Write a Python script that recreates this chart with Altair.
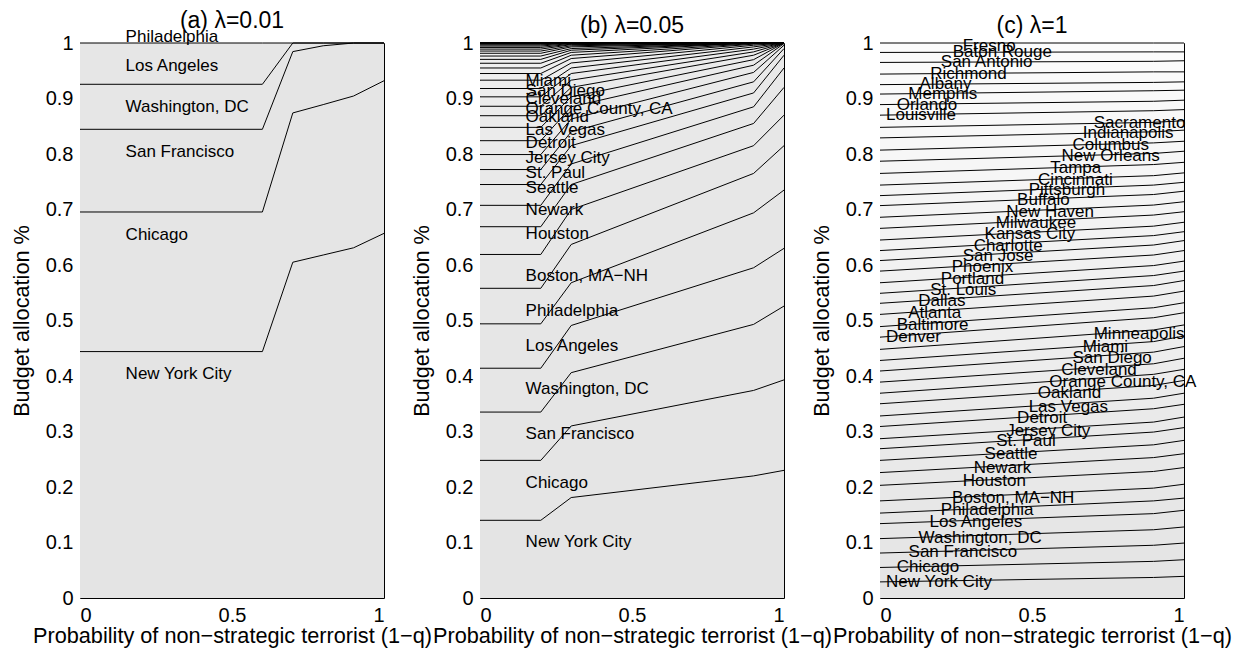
import altair as alt
import pandas as pd

FONT = "Liberation Sans"

cities = ["New York City", "Chicago", "San Francisco", "Washington, DC", "Los Angeles",
          "Philadelphia", "Boston, MA\u2212NH", "Houston", "Newark", "Seattle", "St. Paul",
          "Jersey City", "Detroit", "Las Vegas", "Oakland", "Orange County, CA", "Cleveland",
          "San Diego", "Miami", "Minneapolis", "Denver", "Baltimore", "Atlanta", "Dallas",
          "St. Louis", "Portland", "Phoenix", "San Jose", "Charlotte", "Kansas City",
          "Milwaukee", "New Haven", "Buffalo", "Pittsburgh", "Cincinnati", "Tampa",
          "New Orleans", "Columbus", "Indianapolis", "Sacramento", "Louisville", "Orlando",
          "Memphis", "Albany", "Richmond", "San Antonio", "Baton Rouge", "Fresno"]

# ---- panel (a) lambda = 0.01 : cumulative allocation (top of each city band)
xa = [0, 0.6, 0.7, 0.8, 0.9, 1.0]
cum_a = [
    [0.444, 0.444, 0.605, 0.618, 0.631, 0.657],
    [0.6955, 0.6955, 0.874, 0.889, 0.9045, 0.932],
    [0.8445, 0.8445, 0.9845, 0.995, 1.0, 1.0],
    [0.9256, 0.9256, 1.0, 1.0, 1.0, 1.0],
    [1.0, 1.0, 1.0, 1.0, 1.0, 1.0],
]
lab_a_names = cities[:6]
lab_a_x = [0.15] * 6
lab_a_y = [0.404, 0.654, 0.803, 0.885, 0.9586, 1.011]

# ---- panel (b) lambda = 0.05
xb = [0, 0.2, 0.3, 0.9, 1.0]
cum_b0 = [0.140, 0.248, 0.335, 0.414, 0.494, 0.558, 0.619, 0.669, 0.7075, 0.745, 0.772, 0.799,
          0.824, 0.848, 0.869, 0.886, 0.903, 0.918, 0.933, 0.945, 0.955, 0.9635, 0.9705, 0.9765,
          0.9815, 0.9855, 0.989, 0.992, 0.9945, 0.9965, 0.998, 0.999, 0.9995, 1, 1, 1, 1, 1,
          1, 1, 1, 1, 1, 1, 1, 1, 1, 1]
cum_b3 = [0.181, 0.310, 0.406, 0.491, 0.568, 0.637, 0.700, 0.745, 0.782, 0.815, 0.840, 0.863,
          0.885, 0.903, 0.920, 0.933, 0.945, 0.955, 0.964, 0.972, 0.978, 0.983, 0.987, 0.990,
          0.993, 0.995, 0.997, 0.998, 0.999, 1, 1, 1, 1, 1, 1, 1, 1, 1,
          1, 1, 1, 1, 1, 1, 1, 1, 1, 1]
cum_b9 = [0.220, 0.374, 0.493, 0.595, 0.694, 0.765, 0.815, 0.855, 0.885, 0.910, 0.930, 0.947,
          0.960, 0.970, 0.978, 0.984, 0.989, 0.993, 0.996, 0.998, 0.999, 1, 1, 1,
          1, 1, 1, 1, 1, 1, 1, 1, 1, 1, 1, 1, 1, 1, 1, 1, 1, 1, 1, 1, 1, 1, 1, 1]
cum_b10 = [0.230, 0.393, 0.526, 0.630, 0.735, 0.815, 0.870, 0.920, 0.955, 0.978, 0.990, 0.996,
           0.999, 1, 1, 1, 1, 1, 1, 1, 1, 1, 1, 1,
           1, 1, 1, 1, 1, 1, 1, 1, 1, 1, 1, 1, 1, 1, 1, 1, 1, 1, 1, 1, 1, 1, 1, 1]
lab_b_names = cities[:19]
lab_b_x = [0.15] * 19
lab_b_y = [0.101, 0.208, 0.296, 0.376, 0.454, 0.517, 0.581, 0.655, 0.700, 0.739, 0.766,
           0.793, 0.819, 0.843, 0.866, 0.881, 0.899, 0.914, 0.932]

# ---- panel (c) lambda = 1
xc = [0, 0.9, 1.0]
cum_c0 = [0.029, 0.055, 0.081, 0.107, 0.134, 0.153, 0.175, 0.203, 0.226, 0.248, 0.269, 0.287,
          0.309, 0.328, 0.350, 0.369, 0.389, 0.409, 0.428, 0.448, 0.470, 0.489, 0.511, 0.531,
          0.549, 0.568, 0.589, 0.608, 0.626, 0.645, 0.666, 0.686, 0.707, 0.725, 0.744, 0.765,
          0.787, 0.807, 0.829, 0.848, 0.870, 0.889, 0.908, 0.925, 0.944, 0.965, 0.983, 1.0]
cum_c9 = [0.037, 0.066, 0.095, 0.123, 0.152, 0.175, 0.198, 0.228, 0.253, 0.276, 0.299, 0.317,
          0.341, 0.360, 0.383, 0.403, 0.422, 0.443, 0.462, 0.483, 0.505, 0.523, 0.544, 0.563,
          0.581, 0.599, 0.618, 0.636, 0.653, 0.670, 0.690, 0.708, 0.727, 0.744, 0.761, 0.781,
          0.801, 0.820, 0.840, 0.857, 0.878, 0.895, 0.914, 0.929, 0.948, 0.967, 0.984, 1.0]
cum_c10 = [0.039, 0.069, 0.099, 0.128, 0.158, 0.180, 0.205, 0.235, 0.260, 0.284, 0.307, 0.326,
           0.349, 0.369, 0.392, 0.412, 0.432, 0.453, 0.472, 0.492, 0.514, 0.532, 0.553, 0.572,
           0.589, 0.607, 0.626, 0.644, 0.660, 0.677, 0.696, 0.714, 0.733, 0.749, 0.766, 0.785,
           0.805, 0.823, 0.843, 0.860, 0.880, 0.897, 0.915, 0.930, 0.948, 0.968, 0.984, 1.0]
lab_c_names = cities
lab_c_x = [0.020, 0.055, 0.094, 0.127, 0.163, 0.200, 0.237, 0.272, 0.308, 0.344, 0.382, 0.415,
           0.451, 0.489, 0.519, 0.557, 0.596, 0.633, 0.667, 0.703,
           0.020, 0.055, 0.093, 0.126, 0.165, 0.200, 0.236, 0.272, 0.308, 0.344, 0.381, 0.415,
           0.451, 0.489, 0.520, 0.560, 0.597, 0.633, 0.667, 0.703,
           0.020, 0.055, 0.093, 0.130, 0.165, 0.200, 0.239, 0.272]
lab_c_y = [0.029, 0.056, 0.082, 0.109, 0.137, 0.158, 0.181, 0.211, 0.235, 0.259, 0.282, 0.301,
           0.325, 0.345, 0.369, 0.390, 0.411, 0.433, 0.453, 0.475,
           0.471, 0.491, 0.514, 0.535, 0.555, 0.575, 0.597, 0.616, 0.635, 0.655, 0.676, 0.696,
           0.717, 0.735, 0.754, 0.775, 0.796, 0.816, 0.837, 0.855,
           0.870, 0.889, 0.909, 0.926, 0.945, 0.965, 0.983, 0.995]

XTITLE = "Probability of non\u2212strategic terrorist (1\u2212q)"
YTITLE = "Budget allocation %"
W, H = 304, 555


def band_frame(xs, lines):
    rows = []
    for k, vals in enumerate(lines):
        prev = lines[k - 1] if k > 0 else [0.0] * len(xs)
        for x, top, bot in zip(xs, vals, prev):
            rows.append({"k": k + 1, "x": x, "top": top, "bot": bot})
    return pd.DataFrame(rows)


def panel(xs, lines, names, lx, ly, title):
    df = band_frame(xs, lines)
    xscale = alt.Scale(domain=[0, 1], nice=False, zero=False)
    yscale = alt.Scale(domain=[0, 1], nice=False, zero=False)
    xaxis = alt.Axis(values=[0, 0.5, 1], format="~g", title=XTITLE, grid=False, domain=False,
                     ticks=False, labelPadding=7, labelFontSize=20, labelFont=FONT,
                     labelColor="black", titleFont=FONT, titleFontSize=21.7,
                     titleFontWeight="normal", titleColor="black",
                     titleX=W / 2, titleY=37, titleBaseline="middle", titleAlign="center")
    yaxis = alt.Axis(values=[i / 10 for i in range(11)], format="~g", title=YTITLE,
                     grid=False, domain=False, ticks=False, labelPadding=7,
                     labelFontSize=20, labelFont=FONT, labelColor="black",
                     titleFont=FONT, titleFontSize=21.7, titleFontWeight="normal",
                     titleColor="black", titleX=-59, titleY=H / 2,
                     titleBaseline="middle", titleAlign="center", titleAngle=-90)
    base = alt.Chart(df)
    area = base.mark_area(interpolate="linear", strokeWidth=0, opacity=1).encode(
        x=alt.X("x:Q", scale=xscale, axis=xaxis),
        y=alt.Y("top:Q", scale=yscale, axis=yaxis, stack=None),
        y2="bot:Q",
        color=alt.Color("k:Q", scale=alt.Scale(domain=[1, 48], range=["#e4e4e4", "#fcfcfc"]),
                        legend=None),
        detail="k:N",
    )
    line = base.mark_line(color="black", strokeWidth=1).encode(
        x=alt.X("x:Q", scale=xscale),
        y=alt.Y("top:Q", scale=yscale, stack=None),
        detail="k:N",
    )
    ldf = pd.DataFrame({"name": names, "x": lx, "y": ly})
    text = alt.Chart(ldf).mark_text(align="left", baseline="middle", fontSize=17, font=FONT,
                                    color="black").encode(
        x=alt.X("x:Q", scale=xscale), y=alt.Y("y:Q", scale=yscale), text="name:N")
    return alt.layer(area, line, text).properties(
        width=W, height=H,
        title=alt.TitleParams(title, fontSize=23, font=FONT, fontWeight="normal",
                              color="black", offset=-5, anchor="middle", frame="group"))


pa = panel(xa, cum_a, lab_a_names, lab_a_x, lab_a_y, "(a) \u03bb=0.01")
pb = panel(xb, [list(t) for t in zip(cum_b0, cum_b0, cum_b3, cum_b9, cum_b10)],
           lab_b_names, lab_b_x, lab_b_y, "(b) \u03bb=0.05")
pc = panel(xc, [list(t) for t in zip(cum_c0, cum_c9, cum_c10)],
           lab_c_names, lab_c_x, lab_c_y, "(c)   \u03bb=1")

chart = alt.hconcat(pa, pb, pc, spacing=96, bounds="flush").properties(
    padding={"left": 10, "top": 9, "right": 5, "bottom": 5},
    background="white",
).configure_view(stroke="black", strokeWidth=1)

chart.save("out.html", embed_options={"renderer": "svg", "actions": False})
